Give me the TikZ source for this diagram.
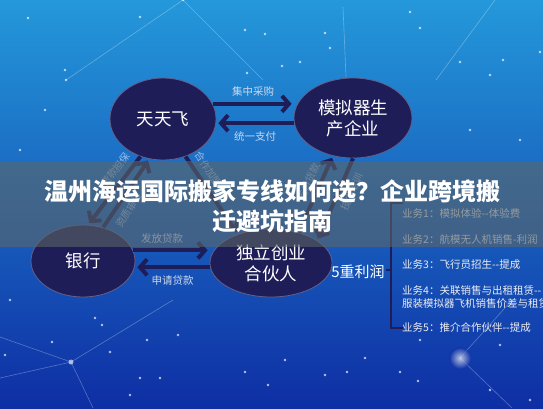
\documentclass[tikz,border=0pt]{standalone}
\usepackage{fontspec}
\setmainfont{Noto Sans CJK SC}
\usetikzlibrary{shapes, shapes.geometric, arrows, arrows.meta}
\definecolor{navy}{RGB}{30,29,88}
\definecolor{skytop}{RGB}{36,152,218}
\definecolor{skymid}{RGB}{22,108,204}
\definecolor{skybot}{RGB}{14,46,164}
\definecolor{lbl}{RGB}{205,215,235}
\definecolor{itemc}{RGB}{236,236,242}
\definecolor{bandc}{RGB}{92,102,104}

\begin{document}
\begin{tikzpicture}[x=1pt, y=-1pt,
    oval/.style={draw=navy!70!white, line width=0.8pt, fill=navy, ellipse, text=white, align=center, inner sep=0pt, font=\fontsize{17.5}{21}\selectfont},
    link/.style={draw=navy, line width=4pt, -{Straight Barb[length=7pt,width=16pt]}, shorten >=2pt},
    tag/.style={text=lbl, font=\fontsize{10.5}{12}\selectfont},
    slant/.style={text=lbl, opacity=0.75, sloped, font=\fontsize{10}{12}\selectfont},
    item/.style={anchor=west, text=itemc, align=left, inner sep=0pt, font=\fontsize{10.5}{13}\selectfont},
    heading/.style={text=white, font=\bfseries\fontsize{24}{28}\selectfont}]
    \useasboundingbox (0,0) rectangle (543,408);
    \clip (0,0) rectangle (543,408);

    % sky
    \shade[top color=skytop, middle color=skymid, bottom color=skybot] (0,0) rectangle (543,408);
    \draw[white, opacity=0.3, line width=0.6pt] (66,80) -- (183,0) -- (263,80) (343,7) -- (346,77) (495,0) -- (436,80)
        (0,337) -- (71,362) -- (173,300) (0,378) -- (71,362) -- (93,408) (512,300) -- (460,358) -- (512,408);
    \foreach \p in {(245,30),(265,34),(330,48),(325,33),(282,66),(247,73),(300,62),(420,28),(460,62),(503,60),(540,52),
        (490,75),(410,12),(65,70),(28,18),(140,17),(95,318),(178,335),(147,340),(140,378),(160,378),(245,372),(268,385),
        (285,360),(325,375),(347,372),(418,381),(400,372),(365,358),(420,340),(500,345),(52,342),(102,325),(110,352),
        (130,395),(490,390),(530,400),(20,150),(45,110),(10,300),(520,140),(470,130),(5,355),(183,0),(66,80)}
        \fill[white, opacity=0.7] \p circle (1.3);
    \fill[white, opacity=0.6] (71,362) circle (2.5);
    \shade[inner color=white, outer color=skybot, opacity=0.7] (460,358) circle (11);

    % partners
    \node[oval, minimum width=106, minimum height=82] (n0) at (163,119) {天天飞};
    \node[oval, minimum width=118, minimum height=80] (n1) at (353,118) {模拟器生\\产企业};
    \node[oval, minimum width=104, minimum height=72] (n2) at (83,261) {银行};
    \node[oval, minimum width=122, minimum height=68] (n3) at (271,263) {独立创业\\合伙人};

    \draw[link] (n0.17) -- node[tag, midway, above=2pt] {集中采购} (n1.west |- n0.17);
    \draw[link] (n1.185) -- node[tag, midway, below=3pt] {统一支付} (n0.east |- n1.185);
    \draw[link] (n2.12) -- node[tag, pos=0.38, above=2pt] {发放贷款} (n3.west |- n2.12);
    \draw[link] (n3.184) -- node[tag, midway, below=3pt] {申请贷款} (n2.east |- n3.184);

    \draw[link] (n0.239) -- node[slant, pos=0.3, above=2pt] {贷款担保} (n2.82);
    \draw[link] (n2.59) -- node[slant, pos=0.35, below=2pt] {资质审核} (n0.251);
    \draw[link] (n0.301) -- node[slant, pos=0.25, above=2pt] {合作加盟} (n3.139);
    \draw[link] (n3.48) -- node[slant, pos=0.6, above=2pt] {支付货款} (n1.242);
    \draw[link] (n1.270) -- node[slant, pos=0.35, below=2pt] {技术培训} (n3.26);

    % five incomes
    \node[text=white, font=\fontsize{15}{18}\selectfont] (r) at (358,272) {5重利润};
    \draw[navy, line width=2pt] (403,203) -- (391,203) -- (391,328) -- (403,328) (391,270) -- (386,270);
    \node[item] (t1) at (402,213) {业务1：模拟体验-{}-体验费};
    \node[item] (t2) at (402,239) {业务2：航模无人机销售-利润};
    \node[item] (t3) at (402,265) {业务3：飞行员招生-{}-提成};
    \node[item] (t4) at (402,297) {业务4：关联销售与出租租赁-{}-\\服装模拟器飞机销售价差与租赁};
    \node[item] (t5) at (402,328) {业务5：推介合作伙伴-{}-提成};

    % title band
    \fill[bandc, opacity=0.6] (0,161) rectangle (543,247);
    \node[heading] (h1) at (272,191) {温州海运国际搬家专线如何选？企业跨境搬};
    \node[heading] (h2) at (272,221) {迁避坑指南};
\end{tikzpicture}
\end{document}
